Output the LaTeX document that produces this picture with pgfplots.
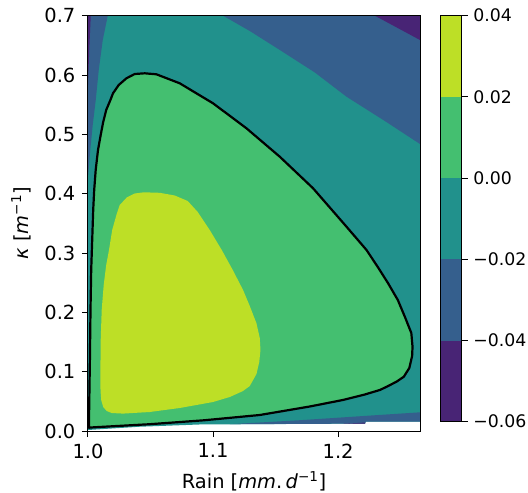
\documentclass[border=0pt]{standalone}
\usepackage{fontspec}
\setmainfont{DejaVu Sans}
\usepackage{pgfplots}
\pgfplotsset{compat=1.18}
\definecolor{vA}{HTML}{482475}
\definecolor{vB}{HTML}{355F8D}
\definecolor{vC}{HTML}{21918C}
\definecolor{vD}{HTML}{44BF70}
\definecolor{vE}{HTML}{BDDF26}
\newcommand{\bigf}{\fontsize{19.44bp}{23bp}\selectfont}
\newcommand{\cbf}{\fontsize{17.3bp}{21bp}\selectfont}
\begin{document}
\bigf
\begin{tikzpicture}
\useasboundingbox (-88bp,-62bp) rectangle (440bp,431bp);
\begin{axis}[
  at={(0,0)}, anchor=south west,
  scale only axis, width=332bp, height=415.3bp,
  xmin=1.0, xmax=1.2655, ymin=0, ymax=0.7,
  axis on top,
  xtick={1.0,1.1,1.2}, ytick={0,0.1,0.2,0.3,0.4,0.5,0.6,0.7},
  /pgf/number format/assume math mode=true,
  /pgf/number format/fixed, /pgf/number format/fixed zerofill,
  /pgf/number format/precision=1,
  tick align=outside, tick pos=left,
  major tick length=6bp,
  every tick/.style={black, line width=1bp},
  axis line style={line width=1bp, black},
  tick label style={font=\bigf},
  label style={font=\bigf},
  xlabel={Rain [\textit{mm}.\,\textit{d}\textsuperscript{−1}]},
  ylabel={\textit{κ} [\textit{m}\textsuperscript{−1}]},
]
% -0.02..0 band (background of data region)
\addplot[fill=vC, draw=none] coordinates {
(1.0,0.7) (1.2655,0.7) (1.2655,0.016) (1.2222,0.0157) (1.2214,0.0125)
(1.2014,0.0123) (1.0894,0.011) (1.0414,0.0072) (1.0,0.0017)} -- cycle;
% -0.04..-0.02 band, upper right
\addplot[fill=vB, draw=none] coordinates {
(1.108,0.7) (1.1294,0.6742) (1.1534,0.6422) (1.1814,0.6043) (1.2067,0.5635)
(1.2374,0.5225) (1.2655,0.4837) (1.2655,0.7)} -- cycle;
% -0.04..-0.02 band, left strip
\addplot[fill=vB, draw=none] coordinates {
(1.0158,0.7) (1.0118,0.659) (1.0086,0.6085) (1.0062,0.5579) (1.0038,0.5158)
(1.0018,0.4736) (1.0002,0.4315) (1.0,0.4315) (1.0,0.7)} -- cycle;
% -0.04..-0.02 band, bottom strip
\addplot[fill=vB, draw=none] coordinates {
(1.1134,0.01146) (1.1374,0.01433) (1.1694,0.0182) (1.2014,0.0226) (1.2334,0.0271)
(1.2655,0.0315) (1.2655,0.016) (1.2222,0.0157) (1.2214,0.0125) (1.2014,0.0123)} -- cycle;
% -0.06..-0.04 corners
\addplot[fill=vA, draw=none] coordinates {
(1.2294,0.7) (1.2655,0.7) (1.2655,0.659)} -- cycle;
\addplot[fill=vA, draw=none] coordinates {
(1.0,0.7) (1.0022,0.7) (1.001,0.6422) (1.0,0.5832)} -- cycle;
\addplot[fill=vA, draw=none] coordinates {
(1.2038,0.0121) (1.2214,0.0142) (1.2218,0.0125)} -- cycle;
% 0..0.02 band, inside zero contour
\addplot[fill=vD, draw=none] coordinates {
(1.0008,0.00556) (1.00456,0.00624) (1.04936,0.01146) (1.09256,0.01803) (1.13736,0.02697)
(1.17736,0.0413) (1.20376,0.05225) (1.22136,0.06152) (1.23336,0.0691) (1.23896,0.07467)
(1.24696,0.08343) (1.25256,0.09152) (1.25696,0.10619) (1.2592,0.12641) (1.25952,0.14209)
(1.25856,0.16518) (1.25336,0.19265) (1.24776,0.2208) (1.24,0.24895) (1.23176,0.27642)
(1.22272,0.30508) (1.20672,0.34435) (1.18,0.40907) (1.15336,0.46233) (1.12672,0.5102)
(1.1,0.55234) (1.07336,0.58605) (1.05472,0.60122) (1.04536,0.60291) (1.03736,0.60172)
(1.03072,0.59448) (1.02456,0.58318) (1.02,0.5692) (1.01792,0.5579) (1.01456,0.54105)
(1.01216,0.52082) (1.01016,0.49891) (1.008,0.47363) (1.00616,0.43992) (1.00496,0.40621)
(1.00416,0.3725) (1.00336,0.32193) (1.00256,0.27137) (1.002,0.20395) (1.00152,0.11967)
(1.00104,0.05225) (1.0008,0.01854)} -- cycle;
% 0.02..0.04 band
\addplot[fill=vE, draw=none] coordinates {
(1.04456,0.40233) (1.03736,0.4003) (1.03096,0.39356) (1.02536,0.38092) (1.02272,0.36407)
(1.01936,0.33879) (1.0168,0.30508) (1.01456,0.27979) (1.01256,0.24608) (1.01096,0.20395)
(1.01016,0.15338) (1.00992,0.10282) (1.01,0.06911) (1.01056,0.05225) (1.01216,0.04045)
(1.01496,0.03371) (1.01896,0.03034) (1.028,0.02933) (1.04936,0.03202) (1.07336,0.03877)
(1.1,0.04888) (1.11336,0.05731) (1.124,0.06742) (1.12936,0.07585) (1.13472,0.09607)
(1.13696,0.1163) (1.13792,0.13653) (1.13736,0.15675) (1.13472,0.18153) (1.12936,0.21069)
(1.124,0.23766) (1.11576,0.27137) (1.10696,0.30508) (1.09736,0.33879) (1.08776,0.36912)
(1.07976,0.38767) (1.06936,0.39694) (1.05736,0.40149)} -- cycle;
% zero contour line
\addplot[black, line width=2.2bp, line join=round] coordinates {
(1.0008,0.00556) (1.00456,0.00624) (1.04936,0.01146) (1.09256,0.01803) (1.13736,0.02697)
(1.17736,0.0413) (1.20376,0.05225) (1.22136,0.06152) (1.23336,0.0691) (1.23896,0.07467)
(1.24696,0.08343) (1.25256,0.09152) (1.25696,0.10619) (1.2592,0.12641) (1.25952,0.14209)
(1.25856,0.16518) (1.25336,0.19265) (1.24776,0.2208) (1.24,0.24895) (1.23176,0.27642)
(1.22272,0.30508) (1.20672,0.34435) (1.18,0.40907) (1.15336,0.46233) (1.12672,0.5102)
(1.1,0.55234) (1.07336,0.58605) (1.05472,0.60122) (1.04536,0.60291) (1.03736,0.60172)
(1.03072,0.59448) (1.02456,0.58318) (1.02,0.5692) (1.01792,0.5579) (1.01456,0.54105)
(1.01216,0.52082) (1.01016,0.49891) (1.008,0.47363) (1.00616,0.43992) (1.00496,0.40621)
(1.00416,0.3725) (1.00336,0.32193) (1.00256,0.27137) (1.002,0.20395) (1.00152,0.11967)
(1.00104,0.05225) (1.0008,0.01854)} -- cycle;
\end{axis}
\begin{axis}[
  at={(352.7bp,9.3bp)}, anchor=south west,
  scale only axis, width=21bp, height=406bp,
  xmin=0, xmax=1, ymin=-0.06, ymax=0.04,
  axis on top,
  scaled y ticks=false,
  xtick=\empty,
  ytick={-0.06,-0.04,-0.02,0,0.02,0.04},
  yticklabels={−0.06,−0.04,−0.02,0.00,0.02,0.04},
  ytick pos=right, yticklabel pos=right,
  tick align=outside,
  major tick length=6bp,
  every tick/.style={black, line width=1bp},
  axis line style={line width=1bp, black},
  tick label style={font=\cbf},
  yticklabel style={xshift=-1bp},
]
\addplot[fill=vA, draw=none] coordinates {(0,-0.06) (1,-0.06) (1,-0.04) (0,-0.04)} -- cycle;
\addplot[fill=vB, draw=none] coordinates {(0,-0.04) (1,-0.04) (1,-0.02) (0,-0.02)} -- cycle;
\addplot[fill=vC, draw=none] coordinates {(0,-0.02) (1,-0.02) (1,0) (0,0)} -- cycle;
\addplot[fill=vD, draw=none] coordinates {(0,0) (1,0) (1,0.02) (0,0.02)} -- cycle;
\addplot[fill=vE, draw=none] coordinates {(0,0.02) (1,0.02) (1,0.04) (0,0.04)} -- cycle;
\end{axis}
\end{tikzpicture}
\end{document}
